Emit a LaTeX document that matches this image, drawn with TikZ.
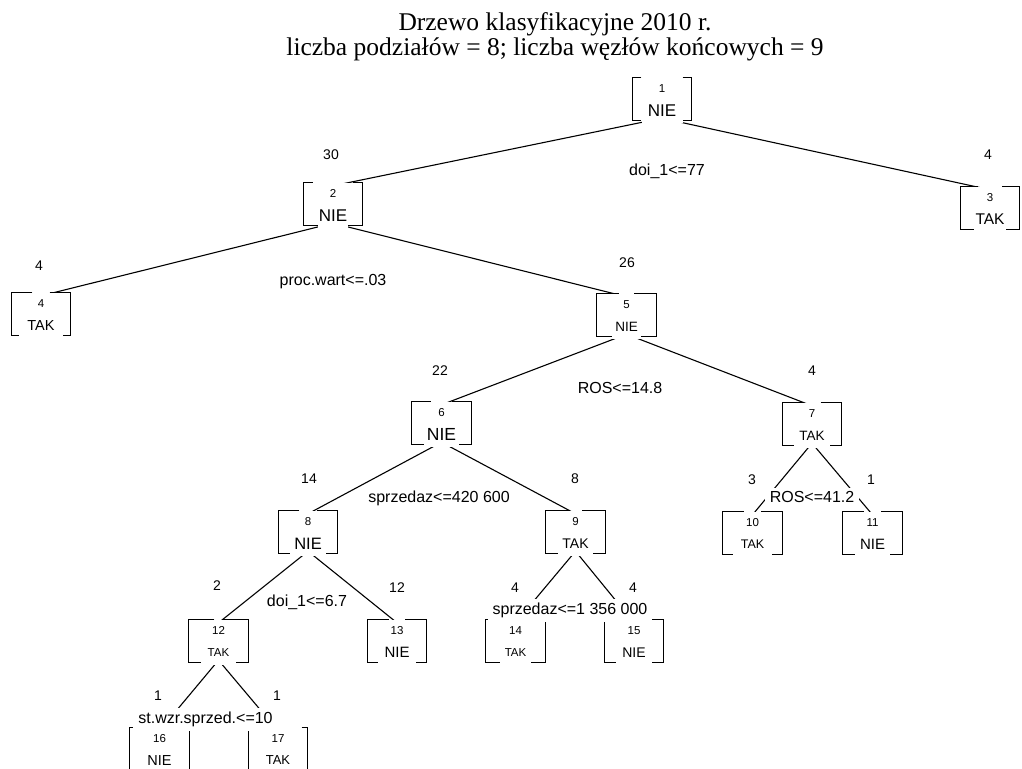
\documentclass[tikz,border=0pt]{standalone}
\usepackage{fontspec}
\setmainfont{Liberation Serif}
\newfontfamily\arialf{Liberation Sans}
\usetikzlibrary{calc}
\pgfdeclarelayer{edgelayer}
\pgfsetlayers{edgelayer,main}
\tikzset{
  tbox/.style={rectangle, minimum width=59pt, minimum height=42pt, inner sep=0pt, fill=white},
  brk/.style={line width=1.3pt, line join=miter},
  edge/.style={line width=1.1pt},
  numlab/.style={font=\arialf\fontsize{11.5}{13}\selectfont, anchor=base, inner sep=0pt},
  cnt/.style={font=\arialf\fontsize{14}{16}\selectfont, anchor=base, inner sep=0pt},
  split/.style={font=\arialf\fontsize{16}{18}\selectfont, anchor=base, fill=white, inner xsep=5pt, inner ysep=4pt},
  ttl/.style={font=\fontsize{25.5}{28}\selectfont, anchor=base, inner sep=0pt},
}
% name, cx, top, top gap, bottom gap, number, class, class size
\newcommand\tn[8]{%
  \node[tbox] (#1) at (#2,#3+21) {};
  \fill[white] ($(#1.south)+(-#5/2,-1)$) rectangle ($(#1.south)+(#5/2,3)$);
  \draw[brk] ($(#1.north west)+(29.5-#4/2,0)$) -- (#1.north west) -- (#1.south west) -- ($(#1.south west)+(29.5-#5/2,0)$);
  \draw[brk] ($(#1.north east)+(-29.5+#4/2,0)$) -- (#1.north east) -- (#1.south east) -- ($(#1.south east)+(-29.5+#5/2,0)$);
  \node[numlab] (#1num) at ($(#1.north)+(0,15)$) {#6};
  \node[anchor=base, inner sep=0pt, font=\arialf\fontsize{#8}{#8}\selectfont] (#1cls) at ($(#1.south)+(0,-10+0.358*#8)$) {#7};
}
\newcommand\tedge[2]{\draw[edge] ($(#1.south)+(0,-2)$) -- ($(#2.north)+(0,3)$);}
\begin{document}
\begin{tikzpicture}[x=1pt,y=-1pt]
\useasboundingbox (0,0) rectangle (1022,768);
\node[ttl] (t1) at (555,31) {Drzewo klasyfikacyjne 2010 r.};
\node[ttl] (t2) at (555,55.5) {liczba podziałów = 8; liczba węzłów końcowych = 9};

\tn{n1}{662}{78}{41}{41}{1}{NIE}{17}
\tn{n2}{333}{183}{40}{30}{2}{NIE}{17}
\tn{n3}{990}{187}{24}{32}{3}{TAK}{15.5}
\tn{n4}{41}{293}{17}{43}{4}{TAK}{14.5}
\tn{n5}{626.5}{294}{15}{29}{5}{NIE}{13.5}
\tn{n6}{441.5}{402}{21}{35}{6}{NIE}{17.5}
\tn{n7}{812}{403}{17}{35}{7}{TAK}{13.5}
\tn{n8}{308}{511}{17}{36}{8}{NIE}{16.5}
\tn{n9}{575.5}{511}{13}{35}{9}{TAK}{14}
\tn{n10}{752.5}{512}{17}{38}{10}{TAK}{12.5}
\tn{n11}{872.5}{512}{17}{35}{11}{NIE}{15}
\tn{n12}{218.5}{620}{8}{35}{12}{TAK}{11.5}
\tn{n13}{397}{620}{16}{37}{13}{NIE}{15}
\tn{n14}{515.5}{620}{17}{30}{14}{TAK}{11.5}
\tn{n15}{634}{620}{17}{35}{15}{NIE}{14}
\tn{n16}{159.5}{728}{17}{35}{16}{NIE}{14.5}
\tn{n17}{278}{728}{47}{35}{17}{TAK}{13}

\begin{pgfonlayer}{edgelayer}
\tedge{n1}{n2}
\tedge{n1}{n3}
\tedge{n2}{n4}
\tedge{n2}{n5}
\tedge{n5}{n6}
\tedge{n5}{n7}
\tedge{n6}{n8}
\tedge{n6}{n9}
\tedge{n7}{n10}
\tedge{n7}{n11}
\tedge{n8}{n12}
\tedge{n8}{n13}
\tedge{n9}{n14}
\tedge{n9}{n15}
\tedge{n12}{n16}
\tedge{n12}{n17}
\end{pgfonlayer}

\node[split] (s1) at (667,175.7) {doi\_1<=77};
\node[split] (s2) at (333,285.7) {proc.wart<=.03};
\node[split] (s5) at (620,393.7) {ROS<=14.8};
\node[split] (s6) at (439,502.7) {sprzedaz<=420 600};
\node[split] (s7) at (812,502.7) {ROS<=41.2};
\node[split] (s8) at (307,606.7) {doi\_1<=6.7};
\node[split] (s9) at (570,614.7) {sprzedaz<=1 356 000};
\node[split] (s12) at (205.5,723.7) {st.wzr.sprzed.<=10};

\node[cnt] (c2) at (331,159) {30};
\node[cnt] (c3) at (988,159) {4};
\node[cnt] (c4) at (39,270) {4};
\node[cnt] (c5) at (627,267) {26};
\node[cnt] (c6) at (440,375) {22};
\node[cnt] (c7) at (812,375) {4};
\node[cnt] (c8) at (309,483) {14};
\node[cnt] (c9) at (575,483) {8};
\node[cnt] (c10) at (752,484) {3};
\node[cnt] (c11) at (871,484) {1};
\node[cnt] (c12) at (217,590) {2};
\node[cnt] (c13) at (397,592) {12};
\node[cnt] (c14) at (515,592) {4};
\node[cnt] (c15) at (633,592) {4};
\node[cnt] (c16) at (158,700) {1};
\node[cnt] (c17) at (277,700) {1};
\end{tikzpicture}
\end{document}
